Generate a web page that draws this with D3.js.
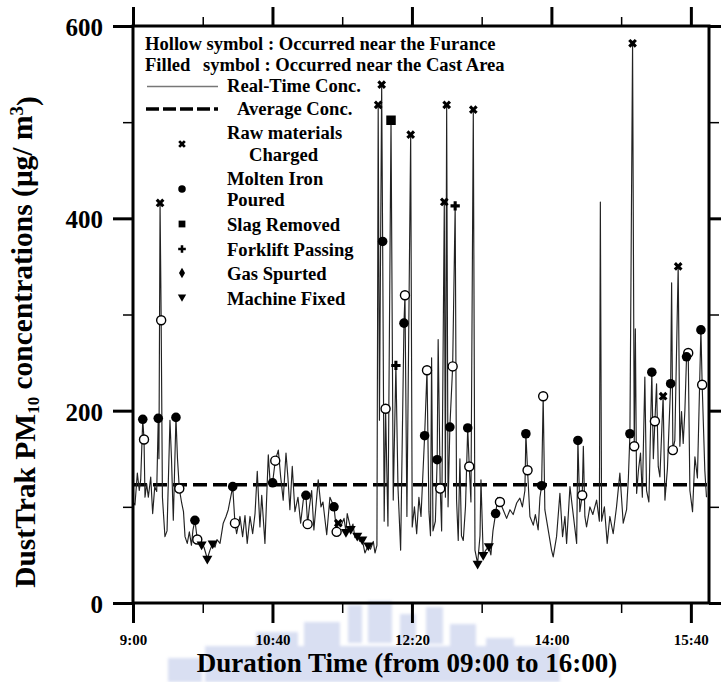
<!DOCTYPE html>
<html>
<head>
<meta charset="utf-8">
<script src="https://cdn.jsdelivr.net/npm/d3@7"></script>
<style>
  body { margin: 0; background: #fff; }
  svg { display: block; }
  text { font-family: "Liberation Serif", "Times New Roman", serif; font-weight: bold; fill: #000; }
</style>
</head>
<body>
<svg id="chart" width="721" height="682"></svg>
<script>
// Real-time DustTrak PM10 readings: minutes after 09:00 and concentration (µg/m3)
const timeMin = [
  0.0, 1.4, 3.1, 4.5, 5.5, 7.0, 7.9, 8.6, 9.8, 11.0, 12.7, 14.1, 15.6, 17.0, 18.1, 18.6, 19.4, 20.2, 21.1, 22.9,
  24.4, 26.5, 27.6, 28.9, 30.8, 31.9, 33.2, 34.9, 36.2, 37.3, 38.9, 40.4, 41.9, 43.0, 44.4, 46.1, 47.7, 49.2, 50.9, 53.3,
  55.2, 57.1, 58.8, 60.2, 62.4, 64.7, 66.7, 68.3, 71.5, 73.1, 74.3, 76.7, 78.6, 80.3, 81.9, 83.9, 85.8, 87.5, 89.1, 91.0,
  92.3, 94.6, 97.0, 98.2, 100.1, 102.0, 104.2, 105.9, 107.7, 109.7, 111.1, 112.5, 114.2, 116.1, 118.3, 120.2, 122.1, 124.0, 125.2, 126.5,
  128.1, 129.7, 132.8, 134.8, 136.2, 138.9, 141.2, 144.1, 146.0, 147.2, 149.1, 151.3, 152.7, 153.6, 156.1, 157.7, 159.1, 160.8, 162.7, 164.4,
  166.3, 168.7, 170.3, 172.3, 173.5, 174.9,
  175.8, 176.7, 178.3, 179.0, 180.1, 181.1, 182.8, 185.0, 186.6, 188.5, 190.0, 191.9, 194.3, 195.0, 196.4, 199.1, 200.2, 201.8, 203.4, 205.0,
  206.5, 209.1, 210.8, 212.2, 213.3, 214.1, 215.1, 216.8, 218.1, 218.8, 220.3, 221.3, 223.2, 224.0, 224.9, 225.9, 227.2, 229.2, 231.0, 232.0,
  233.2, 234.4, 235.5, 236.8, 238.4, 240.0, 241.1, 242.3, 244.0, 245.2, 247.1, 248.8, 249.5, 251.1, 253.0, 255.2, 256.6, 258.1, 260.0, 261.6,
  263.1,
  265.4, 267.9, 270.3, 272.6, 275.1, 277.4, 279.2, 281.0, 281.7, 282.9, 284.6, 287.0, 288.5, 290.5, 291.8, 293.0, 294.1, 295.3, 297.7, 300.1,
  301.3, 303.7, 306.1, 308.0, 309.7, 310.9, 313.3, 315.4, 318.1, 319.0, 320.4, 322.1, 322.9, 324.0, 325.2, 327.6, 329.7, 332.4, 334.4, 335.1,
  336.0, 338.0, 340.0, 341.9, 344.3, 346.7, 349.1, 351.5, 353.9, 355.2, 356.3, 358.2, 359.4, 360.2, 361.1, 362.4, 363.9, 365.2, 367.0, 368.2,
  369.9, 372.0, 373.1, 374.2, 375.4, 376.6, 377.8, 380.1, 381.4, 383.2, 385.5, 386.2, 387.1, 388.5, 390.9, 392.1, 393.3, 394.5, 395.7, 396.9,
  398.1, 399.3, 401.2, 402.9, 404.7, 407.2, 408.1, 410.0, 411.2
];
const pm10 = [
  105, 102, 135, 117, 128, 191, 170, 110, 124, 110, 131, 93, 121, 116, 192, 150, 416, 294, 110, 69,
  75, 190, 150, 86, 193, 150, 119, 104, 95, 69, 62, 74, 60, 76, 86, 66, 70, 61, 58, 46,
  55, 62, 58, 66, 62, 83, 90, 97, 121, 83, 72, 90, 69, 91, 62, 90, 72, 93, 137, 79,
  112, 62, 154, 128, 125, 148, 159, 131, 107, 156, 130, 97, 142, 95, 110, 83, 107, 112, 82, 100,
  117, 76, 128, 100, 105, 71, 110, 100, 74, 83, 80, 88, 74, 93, 77, 82, 68, 70, 64, 66,
  52, 60, 56, 64, 52, 60,
  518, 190, 539, 376, 85, 202, 80, 502, 107, 247, 120, 55, 291, 320, 90, 487, 79, 100, 72, 110,
  90, 174, 242, 95, 70, 255, 75, 85, 149, 274, 119, 75, 417, 110, 518, 100, 183, 246, 413, 107,
  65, 150, 70, 65, 100, 182, 142, 105, 513, 55, 41, 70, 128, 50, 55, 59, 50, 75, 93, 110,
  105,
  97, 88, 97, 92, 104, 109, 100, 117, 176, 138, 90, 81, 92, 76, 110, 122, 215, 97, 76, 55,
  48, 69, 114, 69, 90, 62, 121, 95, 62, 169, 95, 112, 163, 90, 79, 100, 92, 107, 85, 417,
  85, 100, 62, 90, 72, 100, 135, 83, 97, 130, 176, 582, 163, 285, 114, 138, 156, 110, 235, 117,
  105, 240, 150, 189, 228, 142, 131, 215, 107, 140, 228, 333, 159, 169, 350, 163, 199, 166, 200, 256,
  260, 117, 95, 152, 130, 284, 227, 138, 110
];
const averageConc = 123;

// Events: minutes after 09:00 and the reading at that moment
const chargedTime = [19.4, 147.2, 175.8, 178.3, 199.1, 223.2, 224.9, 244.0, 358.2, 380.1, 390.9];
const chargedConc = [416, 83, 518, 539, 487, 417, 518, 513, 582, 215, 350];
const pouredCastTime = [7.0, 18.1, 30.8, 44.4, 71.5, 100.1, 124.0, 144.1, 179.0, 194.3, 209.1, 218.1, 227.2, 240.0, 260.0, 281.7, 293.0, 319.0, 356.3, 372.0, 385.5, 396.9, 407.2];
const pouredCastConc = [191, 192, 193, 86, 121, 125, 112, 100, 376, 291, 174, 149, 183, 182, 93, 176, 122, 169, 176, 240, 228, 256, 284];
const pouredFurnaceTime = [7.9, 20.2, 33.2, 46.1, 73.1, 102.0, 125.2, 146.0, 181.1, 195.0, 210.8, 220.3, 229.2, 241.1, 263.1, 282.9, 294.1, 322.1, 359.4, 374.2, 387.1, 398.1, 408.1];
const pouredFurnaceConc = [170, 294, 119, 66, 83, 148, 82, 74, 202, 320, 242, 119, 246, 142, 105, 138, 215, 112, 163, 189, 159, 260, 227];
const slagTime = [185.0];
const slagConc = [502];
const forkliftTime = [188.5, 231.0];
const forkliftConc = [247, 413];
const fixedTime = [49.2, 53.3, 57.1, 152.7, 156.1, 160.8, 164.4, 168.7, 247.1, 251.1, 255.2];
const fixedConc = [61, 46, 62, 74, 77, 70, 66, 60, 41, 50, 59];

// Axis ticks
const yMajorTicks = [0, 200, 400, 600];
const yMinorTicks = [100, 300, 500];
const xMajorTicks = [0, 100, 200, 300, 400];
const xMinorTicks = [50, 150, 250, 350];
const xTickLabels = ["9:00", "10:40", "12:20", "14:00", "15:40"];

(function () {
  const svg = d3.select("#chart");
  const plotLeft = 133, plotRight = 709, plotTop = 26, plotBottom = 603;

  const x = d3.scaleLinear().domain([0, 413]).range([plotLeft, plotRight]);
  const y = d3.scaleLinear().domain([0, 600]).range([plotBottom, plotTop]);

  // Faint blocky watermark behind the x-axis title
  const defs = svg.append("defs");
  defs.append("filter").attr("id", "soft")
    .append("feGaussianBlur").attr("stdDeviation", 1.5);
  const mark = svg.append("g").attr("filter", "url(#soft)").attr("opacity", 0.33);
  const markBlocks = [
    [348, 605, 14, 38], [368, 601, 24, 42], [400, 614, 16, 30], [426, 607, 17, 37],
    [304, 622, 36, 24], [256, 632, 42, 18], [450, 624, 26, 22], [486, 638, 28, 12],
    [205, 646, 355, 36], [168, 658, 34, 24]
  ];
  mark.selectAll("rect").data(markBlocks).join("rect")
    .attr("x", d => d[0]).attr("y", d => d[1]).attr("width", d => d[2]).attr("height", d => d[3])
    .attr("fill", "#8e9fd9");

  // Axes with long major and short minor ticks on all four sides
  function styleAxis(g, width) {
    g.select(".domain").remove();
    g.selectAll(".tick line").attr("stroke", "#000").attr("stroke-width", width);
  }
  svg.append("g").attr("transform", `translate(0,${plotBottom})`)
    .call(d3.axisBottom(x).tickValues(xMajorTicks).tickSize(20).tickFormat((d, i) => xTickLabels[i]))
    .call(g => styleAxis(g, 3))
    .call(g => g.selectAll("text").attr("y", 31).attr("dy", "0.71em")
      .style("font-size", "15px").style("font-family", "'Liberation Serif', serif").style("font-weight", "bold"));
  svg.append("g").attr("transform", `translate(0,${plotBottom})`)
    .call(d3.axisBottom(x).tickValues(xMinorTicks).tickSize(10).tickFormat(""))
    .call(g => styleAxis(g, 1.5));
  svg.append("g").attr("transform", `translate(0,${plotTop})`)
    .call(d3.axisTop(x).tickValues(xMajorTicks).tickSize(19).tickFormat(""))
    .call(g => styleAxis(g, 3));
  svg.append("g").attr("transform", `translate(0,${plotTop})`)
    .call(d3.axisTop(x).tickValues(xMinorTicks).tickSize(9).tickFormat(""))
    .call(g => styleAxis(g, 1.5));
  svg.append("g").attr("transform", `translate(${plotLeft},0)`)
    .call(d3.axisLeft(y).tickValues(yMajorTicks).tickSize(20).tickPadding(10))
    .call(g => styleAxis(g, 3))
    .call(g => g.selectAll("text").attr("dy", "0.38em")
      .style("font-size", "25px").style("font-family", "'Liberation Serif', serif").style("font-weight", "bold"));
  svg.append("g").attr("transform", `translate(${plotLeft},0)`)
    .call(d3.axisLeft(y).tickValues(yMinorTicks).tickSize(10).tickFormat(""))
    .call(g => styleAxis(g, 1.5));
  svg.append("g").attr("transform", `translate(${plotRight},0)`)
    .call(d3.axisRight(y).tickValues(yMajorTicks).tickSize(14).tickFormat(""))
    .call(g => styleAxis(g, 3));
  svg.append("g").attr("transform", `translate(${plotRight},0)`)
    .call(d3.axisRight(y).tickValues(yMinorTicks).tickSize(10).tickFormat(""))
    .call(g => styleAxis(g, 1.5));

  // Average concentration
  svg.append("line")
    .attr("x1", x(0)).attr("x2", x(413))
    .attr("y1", y(averageConc)).attr("y2", y(averageConc))
    .attr("stroke", "#000").attr("stroke-width", 3.5).attr("stroke-dasharray", "14,6");

  // Real-time concentration trace
  const series = timeMin.map((t, i) => [t, pm10[i]]);
  svg.append("path").datum(series)
    .attr("fill", "none").attr("stroke", "#222").attr("stroke-width", 1.15)
    .attr("stroke-linejoin", "round")
    .attr("d", d3.line().x(d => x(d[0])).y(d => y(d[1])));

  // Event markers
  function drawSymbols(times, concs, type, size, rotate, fill, stroke) {
    svg.append("g").selectAll("path").data(times).join("path")
      .attr("d", d3.symbol(type, size))
      .attr("transform", (t, i) => `translate(${x(t)},${y(concs[i])}) rotate(${rotate})`)
      .attr("fill", fill).attr("stroke", stroke).attr("stroke-width", stroke === "none" ? 0 : 1.4);
  }
  drawSymbols(pouredFurnaceTime, pouredFurnaceConc, d3.symbolCircle, 64, 0, "#fff", "#000");
  drawSymbols(pouredCastTime, pouredCastConc, d3.symbolCircle, 72, 0, "#000", "none");
  drawSymbols(chargedTime, chargedConc, d3.symbolCross, 48, 45, "#000", "none");
  drawSymbols(slagTime, slagConc, d3.symbolSquare, 90, 0, "#000", "none");
  drawSymbols(forkliftTime, forkliftConc, d3.symbolCross, 48, 0, "#000", "none");
  drawSymbols(fixedTime, fixedConc, d3.symbolTriangle, 44, 180, "#000", "none");

  // Frame
  svg.append("rect")
    .attr("x", plotLeft).attr("y", plotTop)
    .attr("width", plotRight - plotLeft).attr("height", plotBottom - plotTop)
    .attr("fill", "none").attr("stroke", "#000").attr("stroke-width", 3);

  // Legend
  const legend = svg.append("g");
  function lgText(tx, ty, str) {
    legend.append("text").attr("x", tx).attr("y", ty).style("font-size", "18.6px").text(str);
  }
  lgText(145, 50, "Hollow symbol : Occurred near the Furance");
  lgText(145, 71, "Filled");
  lgText(203, 71, "symbol : Occurred near the Cast Area");
  legend.append("line").attr("x1", 147).attr("x2", 218).attr("y1", 86.5).attr("y2", 86.5)
    .attr("stroke", "#777").attr("stroke-width", 1.5);
  lgText(227, 92, "Real-Time Conc.");
  legend.append("line").attr("x1", 146).attr("x2", 218).attr("y1", 109).attr("y2", 109)
    .attr("stroke", "#000").attr("stroke-width", 3.5).attr("stroke-dasharray", "13,4");
  lgText(237, 115, "Average  Conc.");
  lgText(227, 139, "Raw materials");
  lgText(249, 161, "Charged");
  lgText(227, 185, "Molten Iron");
  lgText(227, 206, "Poured");
  lgText(227, 231, "Slag Removed");
  lgText(227, 256, "Forklift Passing");
  lgText(227, 280, "Gas Spurted");
  lgText(227, 305, "Machine Fixed");

  const legendSymbols = [
    { type: d3.symbolCross, size: 36, rotate: 45, yPos: 144 },
    { type: d3.symbolCircle, size: 44, rotate: 0, yPos: 189 },
    { type: d3.symbolSquare, size: 46, rotate: 0, yPos: 224 },
    { type: d3.symbolCross, size: 32, rotate: 0, yPos: 249 },
    { type: d3.symbolDiamond, size: 32, rotate: 0, yPos: 273 },
    { type: d3.symbolTriangle, size: 30, rotate: 180, yPos: 297 }
  ];
  legend.selectAll("path.lg").data(legendSymbols).join("path")
    .attr("class", "lg")
    .attr("d", d => d3.symbol(d.type, d.size)())
    .attr("transform", d => `translate(182,${d.yPos}) rotate(${d.rotate})`)
    .attr("fill", "#000");

  // Axis titles
  svg.append("text")
    .attr("x", 407).attr("y", 672).attr("text-anchor", "middle")
    .style("font-size", "27px")
    .text("Duration Time (from 09:00 to 16:00)");

  const yTitle = svg.append("text")
    .attr("transform", "translate(35,342) rotate(-90)")
    .attr("text-anchor", "middle")
    .style("font-size", "29.5px");
  yTitle.append("tspan").text("DustTrak PM");
  yTitle.append("tspan").attr("dy", "0.25em").style("font-size", "17px").text("10");
  yTitle.append("tspan").attr("dy", "-0.25em").text(" concentrations (μg/ m");
  yTitle.append("tspan").attr("dy", "-0.45em").style("font-size", "19px").text("3");
  yTitle.append("tspan").attr("dy", "0.45em").text(")");
})();
</script>
</body>
</html>
